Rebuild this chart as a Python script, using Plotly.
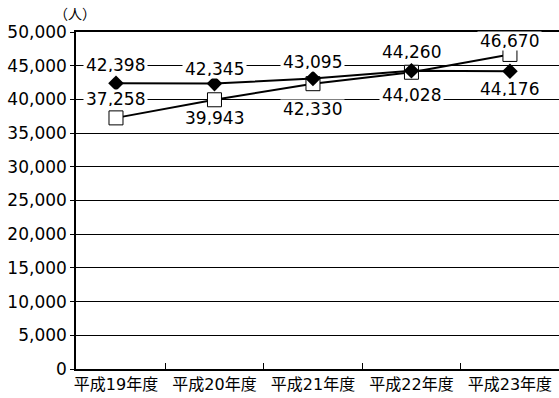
import plotly.graph_objects as go

years = ["平成19年度", "平成20年度", "平成21年度", "平成22年度", "平成23年度"]
diamond_vals = [42398, 42345, 43095, 44260, 44176]
square_vals = [37258, 39943, 42330, 44028, 46670]

# label offsets in px (positive = above the point)
diamond_shift = [18, 15, 17, 19, -18]
square_shift = [19, -18, -25, -23, 13]

font = "DejaVu Sans, Noto Sans CJK JP, sans-serif"

fig = go.Figure()
fig.add_trace(go.Scatter(
    x=years, y=square_vals, mode="lines+markers",
    line=dict(color="black", width=2),
    marker=dict(symbol="square", size=14, color="white",
                line=dict(color="black", width=1)),
))
fig.add_trace(go.Scatter(
    x=years, y=diamond_vals, mode="lines+markers",
    line=dict(color="black", width=2),
    marker=dict(symbol="diamond", size=12, color="black"),
))

for vals, shifts in [(diamond_vals, diamond_shift), (square_vals, square_shift)]:
    for x, v, s in zip(years, vals, shifts):
        fig.add_annotation(x=x, y=v, text=f"{v:,}", showarrow=False,
                           yshift=s, bgcolor="white", borderpad=2, height=14,
                           font=dict(size=17, color="black", family=font))

fig.add_annotation(x=0.0, y=1.0, xref="paper", yref="paper",
                   text="（人）", showarrow=False, xanchor="left", yanchor="bottom",
                   xshift=-24, yshift=8,
                   font=dict(size=14, color="black", family=font))

fig.update_xaxes(range=[-0.406, 4.498], showline=True, linecolor="black",
                 linewidth=1.5, mirror=True, showgrid=False,
                 ticks="inside", tickson="boundaries", ticklen=6,
                 tickcolor="black", tickfont=dict(size=16, family=font, color="black"))
fig.update_yaxes(range=[0, 50000], dtick=5000, tickformat=",",
                 showline=True, linecolor="black", linewidth=1.5,
                 showgrid=True, gridcolor="black", gridwidth=1.3,
                 zeroline=False, ticks="outside", ticklen=4, tickcolor="black",
                 tickfont=dict(size=17, family=font, color="black"))

fig.update_layout(width=559, height=398, showlegend=False,
                  plot_bgcolor="white", paper_bgcolor="white",
                  margin=dict(l=76, r=0, t=32, b=29))

fig.write_html("out.html", config={"displayModeBar": False},
               post_script="document.body.style.margin='0px';")
